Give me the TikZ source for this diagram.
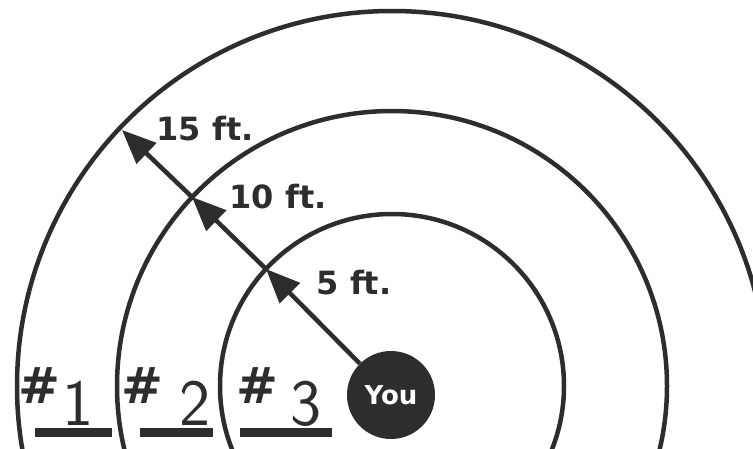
\documentclass[tikz,border=0pt]{standalone}
\usepackage{fontspec}
\usepackage{xcolor}
\usepackage{tikz}
\usetikzlibrary{arrows.meta}
\newfontfamily\labelfont{DejaVu Sans}
\definecolor{myink}{RGB}{45,45,45}
\tikzset{
  ring/.style={draw=myink, line width=4.5pt},
  ray/.style={-{Triangle[length=34pt, width=28pt]}, draw=myink, line width=4.5pt},
  distlabel/.style={font=\labelfont\bfseries\fontsize{32}{32}\selectfont,
    text=myink, inner sep=0pt},
  younode/.style={circle, fill=myink, text=white, minimum size=88pt, inner sep=0pt,
    font=\labelfont\bfseries\fontsize{26}{26}\selectfont},
  hashmark/.style={font=\labelfont\bfseries\fontsize{50}{50}\selectfont,
    text=myink, inner sep=0pt},
  ringnum/.style={font=\sffamily\fontsize{66}{66}\selectfont,
    text=myink, inner sep=0pt, anchor=base},
  numbar/.style={draw=myink, line width=9pt}
}
\begin{document}
\begin{tikzpicture}[x=1pt, y=-1pt]
  \useasboundingbox (0,0) rectangle (753,448);
  \fill[white] (0,0) rectangle (753,448);

  % --- rings at 5, 10 and 15 ft. ---
  \begin{scope}
    \clip (0,0) rectangle (753,448);
    \draw[ring] (392,386) circle (172);
    \draw[ring] (392,386) circle (275);
    \draw[ring] (392,386) circle (375);
  \end{scope}

  % --- you ---
  \node[younode] (you) at (391,395) {You};

  % --- distance ray ---
  \coordinate (p5) at (266,269);
  \coordinate (p10) at (192,197);
  \coordinate (p15) at (122,130);
  \draw[ray] (you) -- (p5);
  \draw[ray] (p5) -- (p10);
  \draw[ray] (p10) -- (p15);
  \node[distlabel] (l5) at (354,283) {5 ft.};
  \node[distlabel] (l10) at (278,197) {10 ft.};
  \node[distlabel] (l15) at (205,129) {15 ft.};

  % --- ring numbers ---
  \node[hashmark] (h1) at (39,386) {\#};
  \node[ringnum] (n1) at (78,425) {1};
  \draw[numbar] (35,432) -- (112,432);
  \node[hashmark] (h2) at (142,386) {\#};
  \node[ringnum] (n2) at (195,425) {2};
  \draw[numbar] (140,432) -- (213,432);
  \node[hashmark] (h3) at (257,386) {\#};
  \node[ringnum] (n3) at (306,425) {3};
  \draw[numbar] (240,432) -- (332,432);
\end{tikzpicture}
\end{document}
